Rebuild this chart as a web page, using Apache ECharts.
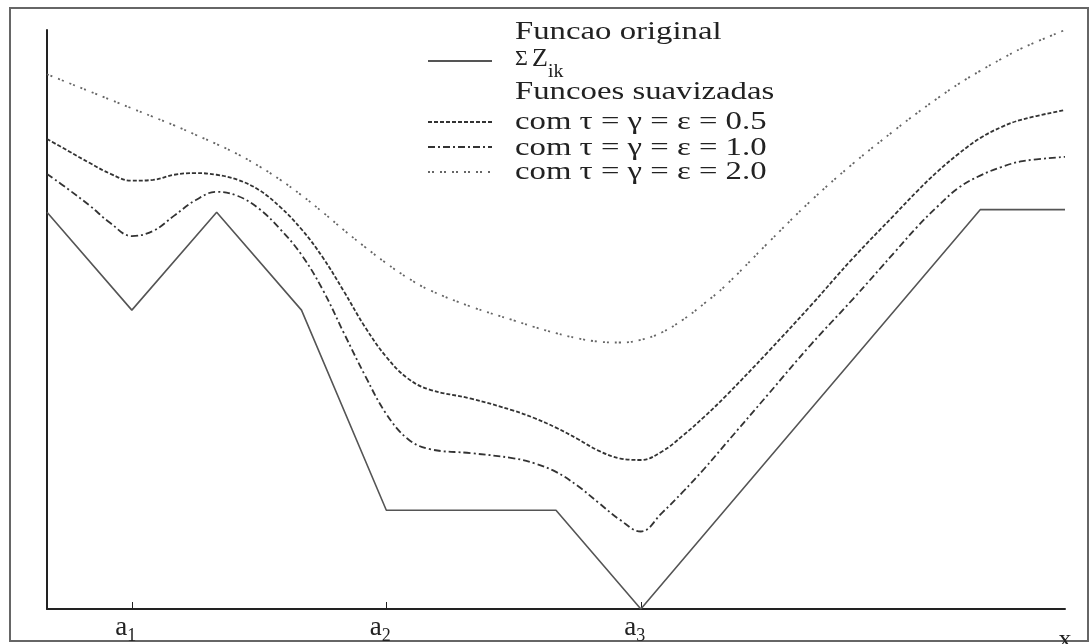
<!DOCTYPE html>
<html>
<head>
<meta charset="utf-8">
<script src="https://cdn.jsdelivr.net/npm/echarts@6/dist/echarts.min.js"></script>
<style>
html, body { margin: 0; padding: 0; background: #fff; }
#main { width: 1091px; height: 644px; }
</style>
</head>
<body>
<div id="main"></div>
<script>
// amostras das curvas suavizadas (mais densas nas curvas fechadas)
var xs = [0, 2.5, 5, 7.5, 10, 12.5, 15, 17.5, 20, 22.5, 25, 27.5, 30, 32.5, 35, 37.5, 40, 42.5, 45,
          50, 55, 57.5, 60, 62.5, 65, 67.5, 70, 72.5, 75, 77.5, 80, 85, 90, 95, 100,
          102.5, 105, 107.5, 110, 112.5, 115, 120];
var tau05 = [55.2, 53.8, 52.4, 51.1, 50.3, 50.4, 51.0, 51.2, 51.0, 50.4, 49.2, 47.2, 44.6, 41.3, 37.3, 33.1, 29.6, 27.1, 25.8,
             24.7, 23.3, 22.4, 21.3, 20.0, 18.6, 17.7, 17.5, 18.5, 20.4, 22.6, 25.0, 30.2, 35.6, 41.2, 46.4,
             49.0, 51.4, 53.5, 55.3, 56.6, 57.5, 58.6];
var tau10 = [51.1, 49.3, 47.4, 45.3, 43.8, 44.4, 46.2, 48.0, 49.0, 48.5, 47.0, 44.6, 41.6, 37.5, 32.4, 27.4, 22.9, 20.0, 18.8,
             18.3, 17.7, 17.1, 16.1, 14.5, 12.5, 10.5, 9.1, 11.3, 13.8, 16.5, 19.4, 25.2, 31.0, 36.4, 42.0,
             44.8, 47.3, 49.5, 50.9, 51.9, 52.6, 53.1];
var tau20 = [62.8, 61.8, 60.8, 59.8, 58.8, 57.8, 56.8, 55.7, 54.6, 53.4, 52.0, 50.4, 48.6, 46.6, 44.5, 42.5, 40.6, 38.9, 37.5,
             35.5, 33.9, 33.1, 32.4, 31.8, 31.4, 31.3, 31.6, 32.5, 34.0, 35.9, 38.0, 43.0, 47.9, 52.3, 56.3,
             58.2, 60.0, 61.7, 63.2, 64.6, 65.9, 68.0];

// funcao original (poligonal)
var origX = [0, 10, 20, 30, 40, 60, 70, 110, 120];
var origY = [46.6, 35.1, 46.6, 35.1, 11.6, 11.6, 0, 46.9, 46.9];

// marcas no eixo x
var tickValues = [10, 40, 70];
var tickSubs = ['1', '2', '3'];

function pairs(x, y) {
    return x.map(function (v, i) { return [v, y[i]]; });
}

var serif = 'Liberation Serif';
var dash05 = [4, 2];
var dash10 = [7, 3, 2, 3];
var dash20 = [2, 2, 2, 6];

var myChart = echarts.init(document.getElementById('main'));

// legenda desenhada a mao
function legendText(txt, x, y, size, sx) {
    return {
        type: 'text', x: x, y: y, scaleX: sx || 1.26,
        style: { text: txt, fontFamily: serif, fontSize: size, fill: '#222', verticalAlign: 'middle' }
    };
}
function legendLine(y, color, dash) {
    return {
        type: 'line', shape: { x1: 428, y1: y, x2: 492, y2: y },
        style: { stroke: color, lineWidth: 1.8, lineDash: dash }
    };
}

var option = {
    animation: false,
    backgroundColor: '#fff',
    grid: { left: 47, right: 26, top: 30, bottom: 35, outerBoundsMode: 'none' },
    xAxis: {
        type: 'value', min: 0, max: 120,
        name: 'x', nameLocation: 'end', nameGap: 0,
        nameTextStyle: { fontFamily: serif, fontSize: 26, color: '#222', align: 'center', verticalAlign: 'top', padding: [18, 0, 0, 0] },
        axisLine: { lineStyle: { color: '#222', width: 2 } },
        axisTick: { customValues: tickValues, inside: true, length: 7, lineStyle: { color: '#222', width: 1 } },
        axisLabel: {
            customValues: tickValues, margin: 2, padding: [0, 12, 0, 0],
            formatter: function (v) {
                return '{a|a}{s|' + tickSubs[tickValues.indexOf(v)] + '}';
            },
            rich: {
                a: { fontFamily: serif, fontSize: 27, color: '#222', lineHeight: 34 },
                s: { fontFamily: serif, fontSize: 18, color: '#222', lineHeight: 16, verticalAlign: 'bottom' }
            }
        },
        splitLine: { show: false }
    },
    yAxis: {
        type: 'value', min: 0, max: 68,
        axisLine: { show: true, lineStyle: { color: '#222', width: 2 } },
        axisTick: { show: false },
        axisLabel: { show: false },
        splitLine: { show: false }
    },
    series: [
        {
            name: 'original', type: 'line', data: pairs(origX, origY), symbol: 'none',
            lineStyle: { color: '#555', width: 1.6 }
        },
        {
            name: '0.5', type: 'line', data: pairs(xs, tau05), symbol: 'none', smooth: 0.4,
            lineStyle: { color: '#333', width: 1.8, type: dash05 }
        },
        {
            name: '1.0', type: 'line', data: pairs(xs, tau10), symbol: 'none', smooth: 0.4,
            lineStyle: { color: '#333', width: 1.8, type: dash10 }
        },
        {
            name: '2.0', type: 'line', data: pairs(xs, tau20), symbol: 'none', smooth: 0.4,
            lineStyle: { color: '#666', width: 1.8, type: dash20 }
        }
    ],
    graphic: [
        {
            type: 'rect', shape: { x: 10, y: 8, width: 1078, height: 633 },
            style: { fill: 'none', stroke: '#666', lineWidth: 2 }
        },
        legendText('Funcao original', 515, 32, 26),
        legendText('Σ', 515, 59, 22, 1),
        legendText('Z', 532, 59, 26, 1),
        legendText('ik', 548, 72, 18, 1.1),
        legendText('Funcoes suavizadas', 515, 92, 26),
        legendText('com τ = γ = ε = 0.5', 515, 122, 26),
        legendText('com τ = γ = ε = 1.0', 515, 148, 26),
        legendText('com τ = γ = ε = 2.0', 515, 172, 26),
        legendLine(61, '#555', null),
        legendLine(122, '#333', dash05),
        legendLine(147, '#333', dash10),
        legendLine(172, '#666', dash20)
    ]
};

myChart.setOption(option);
window.addEventListener('resize', function () {
    myChart.resize();
});
</script>
</body>
</html>
